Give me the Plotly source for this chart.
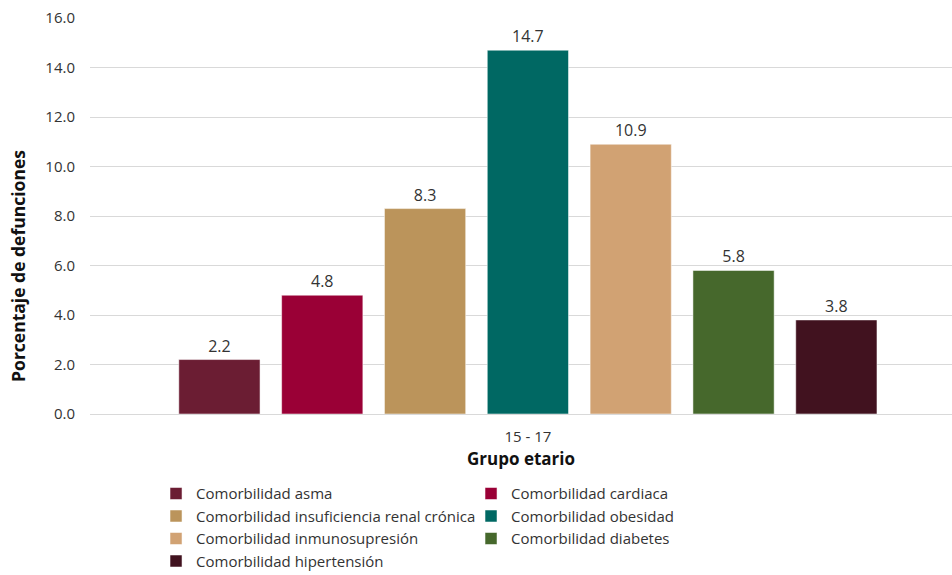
import plotly.graph_objects as go

category = ["15 - 17"]
series_names = [
    "Comorbilidad asma",
    "Comorbilidad cardiaca",
    "Comorbilidad insuficiencia renal crónica",
    "Comorbilidad obesidad",
    "Comorbilidad inmunosupresión",
    "Comorbilidad diabetes",
    "Comorbilidad hipertensión",
]
series_values = [2.2, 4.8, 8.3, 14.7, 10.9, 5.8, 3.8]
series_colors = ["#6B1D33", "#9A0036", "#BB945B", "#006863", "#D1A273", "#46682C", "#41121F"]
y_ticks = [0, 2, 4, 6, 8, 10, 12, 14, 16]

FONT = "Open Sans"
fig = go.Figure()
for name, val, col in zip(series_names, series_values, series_colors):
    fig.add_trace(go.Bar(
        x=category, y=[val], name=name,
        marker=dict(color=col, line=dict(color="rgba(255,255,255,0.5)", width=1)),
        text=[f"{val:.1f}"], textposition="outside",
        textfont=dict(family=FONT, size=16, color="#333333"),
        cliponaxis=False,
    ))

fig.add_annotation(
    text="<b>Porcentaje de defunciones</b>", textangle=-90,
    xref="paper", yref="paper", x=-0.0835, y=0.374,
    xanchor="center", yanchor="middle", showarrow=False,
    font=dict(family=FONT, size=17.5, color="#111111"),
)

fig.update_layout(
    width=952, height=575,
    margin=dict(l=90, r=0, t=18, b=161, autoexpand=False),
    paper_bgcolor="white", plot_bgcolor="white",
    barmode="group", bargap=0.165, bargroupgap=0.21,
    font=dict(family=FONT, size=14, color="#333333"),
    showlegend=True,
    legend=dict(
        orientation="h", x=0.0766, xanchor="left",
        yref="container", y=0.170, yanchor="top",
        entrywidth=270, entrywidthmode="pixels",
        font=dict(family=FONT, size=15, color="#333333"),
        itemwidth=30, traceorder="normal",
    ),
    xaxis=dict(
        type="category", range=[-0.508, 0.492],
        title=dict(text="<b>Grupo etario</b>", standoff=8,
                   font=dict(family=FONT, size=17, color="#111111")),
        tickfont=dict(family=FONT, size=15, color="#333333"),
        showgrid=False, showline=False, ticks="", ticklabelstandoff=12,
    ),
    yaxis=dict(
        range=[0, 16], tickvals=y_ticks, tickformat=".1f",
        tickfont=dict(family=FONT, size=15, color="#333333"),
        showgrid=True, gridcolor="#d9d9d9", gridwidth=1,
        zeroline=True, zerolinecolor="#d9d9d9", zerolinewidth=1,
        showline=False, ticks="", ticklabelstandoff=14,
    ),
)

fig.write_html("out.html", config={"displayModeBar": False},
               post_script="document.body.style.margin='0';document.body.style.overflow='hidden';")
